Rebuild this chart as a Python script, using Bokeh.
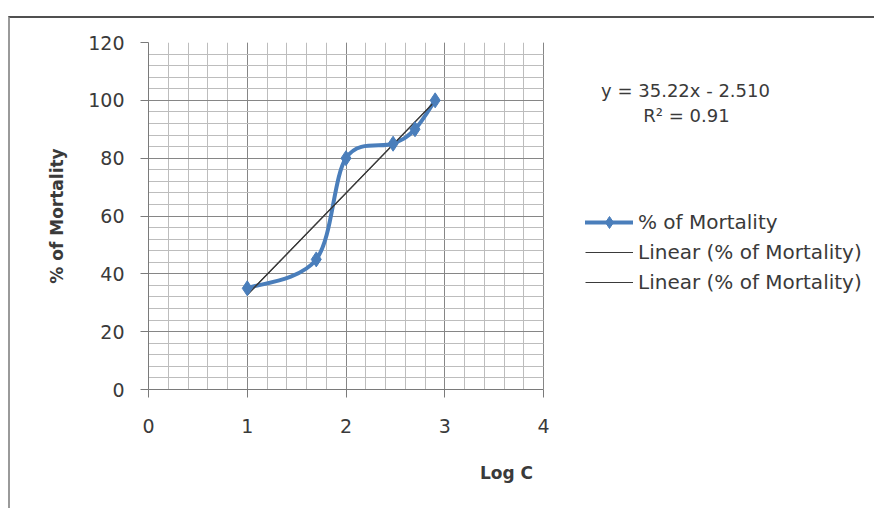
import numpy as np
from bokeh.plotting import figure
from bokeh.models import Range1d, SingleIntervalTicker, Legend, LegendItem, Label
from bokeh.embed import file_html
from bokeh.resources import INLINE

# ---- data ----
log_c = [1.0, 1.699, 2.0, 2.477, 2.699, 2.903]
mortality = [35, 45, 80, 85, 90, 100]
trend_slope = 35.22
trend_intercept = -2.510
r_squared = 0.91
series_name = "% of Mortality"
trend_name = "Linear (% of Mortality)"
x_title = "Log C"
y_title = "% of Mortality"
x_axis_max = 4
y_axis_max = 120

BLUE = "#4a7ebb"
TEXT = "#3a3a3a"
FONT = "DejaVu Sans"

PLOT_W = 395        # pixel width of the gridded plot area
FRAME_W = 716       # frame extends to the right to host legend and equation
FRAME_H = 347
x_end = x_axis_max * FRAME_W / PLOT_W

p = figure(frame_width=FRAME_W, frame_height=FRAME_H, output_backend="svg", toolbar_location=None,
           x_range=Range1d(0, x_end), y_range=Range1d(0, y_axis_max),
           min_border_left=138, min_border_right=10, min_border_top=24, min_border_bottom=119)
p.margin = (16, 0, 0, 8)
p.styles = {"border-top": "2px solid #505050", "border-left": "2px solid #9a9a9a"}
p.background_fill_color = "white"
p.border_fill_color = "white"
p.outline_line_color = None

# axes
p.xaxis.ticker = SingleIntervalTicker(interval=1, num_minor_ticks=5)
p.yaxis.ticker = SingleIntervalTicker(interval=20, num_minor_ticks=5)
p.xaxis.bounds = (0, x_axis_max)
for ax in (p.xaxis[0], p.yaxis[0]):
    ax.axis_line_color = "#7a7a7a"
    ax.major_tick_line_color = "#7a7a7a"
    ax.major_tick_out = 8
    ax.major_tick_in = 0
    ax.minor_tick_line_color = None
    ax.major_label_text_font = FONT
    ax.major_label_text_font_size = "19px"
    ax.major_label_text_color = TEXT
    ax.axis_label_text_font = FONT
    ax.axis_label_text_font_size = "17px"
    ax.axis_label_text_font_style = "bold"
    ax.axis_label_text_color = TEXT
p.xaxis.axis_label = x_title
p.yaxis.axis_label = y_title
p.yaxis.major_label_standoff = 16
p.yaxis.axis_label_standoff = 18
p.xaxis.major_label_standoff = 21
p.xaxis.axis_label_standoff = 27

# grids, restricted to the plot area
p.xgrid.bounds = (0, x_axis_max)
p.xgrid.cross_bounds = (0, y_axis_max)
p.ygrid.bounds = (0, y_axis_max)
p.ygrid.cross_bounds = (0, x_axis_max)
for g in (p.xgrid[0], p.ygrid[0]):
    g.grid_line_color = "#868686"
    g.grid_line_width = 1
    g.minor_grid_line_color = "#bdbdbd"
    g.minor_grid_line_width = 1

# smoothed series via Bezier segments (Catmull-Rom control points from the data)
xs = np.array(log_c, dtype=float)
ys = np.array(mortality, dtype=float)
px = np.concatenate([[xs[0]], xs, [xs[-1]]])
py = np.concatenate([[ys[0]], ys, [ys[-1]]])
n = len(xs)
idx = np.arange(n - 1)
cx0 = px[idx + 1] + (px[idx + 2] - px[idx]) / 6.0
cy0 = py[idx + 1] + (py[idx + 2] - py[idx]) / 6.0
cx1 = px[idx + 2] - (px[idx + 3] - px[idx + 1]) / 6.0
cy1 = py[idx + 2] - (py[idx + 3] - py[idx + 1]) / 6.0
curve = p.bezier(x0=xs[:-1], y0=ys[:-1], x1=xs[1:], y1=ys[1:], cx0=cx0, cy0=cy0, cx1=cx1, cy1=cy1,
                 line_color=BLUE, line_width=4, line_cap="round")

# linear trendlines (two identical, as in the original)
tx = [min(log_c), max(log_c)]
ty = [trend_slope * v + trend_intercept for v in tx]
t1 = p.line(tx, ty, line_color="#3a3a3a", line_width=1.2)
t2 = p.line(tx, ty, line_color="#3a3a3a", line_width=1.2)

marks = p.scatter(log_c, mortality, marker="diamond", size=15, fill_color=BLUE, line_color=BLUE)

legend = Legend(items=[LegendItem(label=series_name, renderers=[curve, marks]),
                       LegendItem(label=trend_name, renderers=[t1]),
                       LegendItem(label=trend_name, renderers=[t2])],
                location=(437, 92), padding=0, margin=0, spacing=0,
                glyph_width=48, glyph_height=30, label_height=30, label_standoff=5,
                label_text_font=FONT, label_text_font_size="20px", label_text_color=TEXT,
                border_line_color=None, background_fill_alpha=0)
p.add_layout(legend)

sign = "-" if trend_intercept < 0 else "+"
eq = f"y = {trend_slope:.2f}x {sign} {abs(trend_intercept):.3f}"
p.add_layout(Label(x=537, y=299, x_units="screen", y_units="screen", text=eq,
                   text_align="center", text_baseline="middle", text_font=FONT,
                   text_font_size="18px", text_color=TEXT))
p.add_layout(Label(x=538, y=274, x_units="screen", y_units="screen",
                   text=f"R\u00b2 = {r_squared:.2f}",
                   text_align="center", text_baseline="middle", text_font=FONT,
                   text_font_size="18px", text_color=TEXT))

open("out.html", "w").write(file_html(p, INLINE))
